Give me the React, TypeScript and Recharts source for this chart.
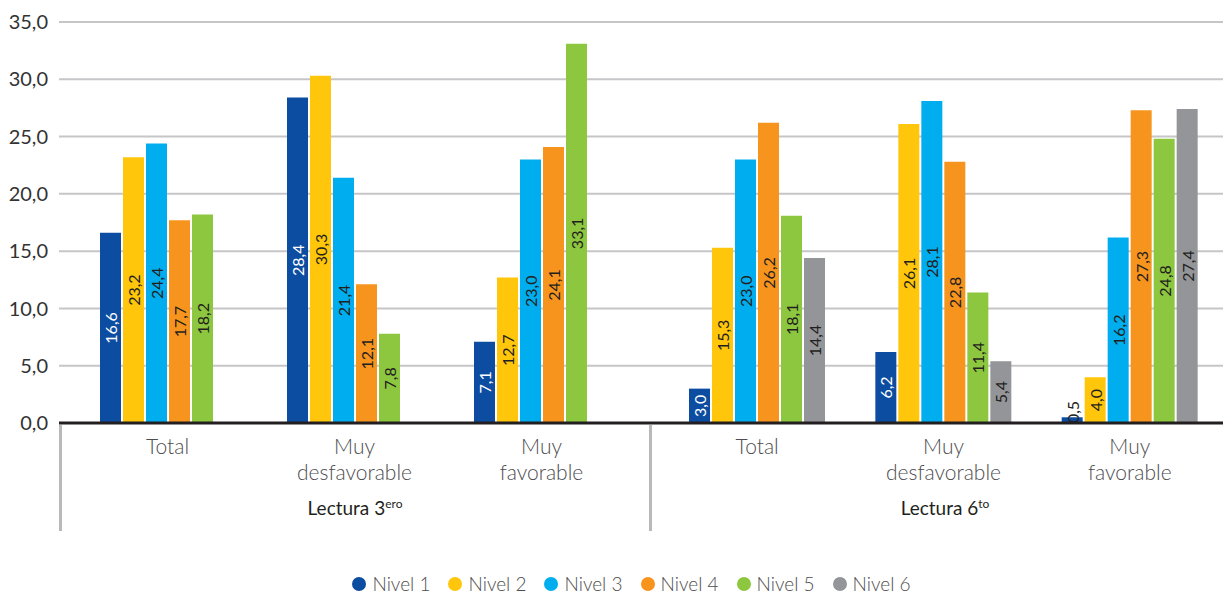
import { BarChart, Bar, XAxis, YAxis, CartesianGrid, LabelList } from 'recharts';

const niveles = ['Nivel 1', 'Nivel 2', 'Nivel 3', 'Nivel 4', 'Nivel 5', 'Nivel 6'];
const colors = ['#0d4da1', '#ffc60b', '#00adee', '#f7941d', '#8dc63f', '#939598'];
const labelColors = ['#ffffff', '#231f20', '#231f20', '#231f20', '#231f20', '#231f20'];

const categories = ['Total', 'Muy desfavorable', 'Muy favorable'];
const yTicks = [0, 5, 10, 15, 20, 25, 30, 35];

// Lectura 3ero (no Nivel 6)
const l3Total = [16.6, 23.2, 24.4, 17.7, 18.2, null];
const l3Desfavorable = [28.4, 30.3, 21.4, 12.1, 7.8, null];
const l3Favorable = [7.1, 12.7, 23.0, 24.1, 33.1, null];

// Lectura 6to
const l6Total = [3.0, 15.3, 23.0, 26.2, 18.1, 14.4];
const l6Desfavorable = [6.2, 26.1, 28.1, 22.8, 11.4, 5.4];
const l6Favorable = [0.5, 4.0, 16.2, 27.3, 24.8, 27.4];

const FONT = 'Lato, "Noto Sans", sans-serif';

function buildRows(rows: (number | null)[][]) {
  return rows.map((vals, i) => {
    const row: any = { name: categories[i] };
    niveles.forEach((n, j) => (row[n] = vals[j]));
    return row;
  });
}

const data3 = buildRows([l3Total, l3Desfavorable, l3Favorable]);
const data6 = buildRows([l6Total, l6Desfavorable, l6Favorable]);

const fmt = (v: number) => v.toFixed(1).replace('.', ',');

function BarLabel(color: string) {
  return (props: any) => {
    const { x, y, width, height, value } = props;
    if (value == null) return null;
    const half = 11;
    const bottom = y + height;
    const cy = Math.min(y + height / 2, bottom - half);
    const cx = x + width / 2;
    // text sticks out of very short bars, so draw it dark there
    const fill = height < 2 * half ? '#231f20' : color;
    return (
      <text
        x={cx}
        y={cy}
        transform={`rotate(-90 ${cx} ${cy})`}
        textAnchor="middle"
        dominantBaseline="central"
        fill={fill}
        fontSize={16}
        fontFamily={FONT}
      >
        {fmt(value)}
      </text>
    );
  };
}

function CategoryTick(props: any) {
  const { x, y, payload } = props;
  const words = String(payload.value).split(' ');
  const lines = words.length > 1 ? [words[0], words.slice(1).join(' ')] : words;
  return (
    <text x={x} y={y} textAnchor="middle" fill="#4d4d4f" fontSize={21} fontFamily={FONT} fontWeight={300}>
      {lines.map((l, i) => (
        <tspan key={i} x={x} dy={i === 0 ? 23 : 26}>
          {l}
        </tspan>
      ))}
    </text>
  );
}

function Series() {
  return niveles.map((n, i) => (
    <Bar key={n} dataKey={n} fill={colors[i]} barSize={21} isAnimationActive={false}>
      <LabelList dataKey={n} content={BarLabel(labelColors[i])} />
    </Bar>
  ));
}

const CHART_H = 540;
const MARGIN = { top: 22, right: 0, left: 0, bottom: 0 };

export default function App() {
  return (
    <div style={{ position: 'absolute', left: 0, top: 0, width: 1223, height: 597, background: '#fff', fontFamily: FONT }}>
      <div style={{ position: 'absolute', left: 0, top: 0 }}>
        <BarChart width={650} height={CHART_H} data={data3} margin={MARGIN} barGap={2} barCategoryGap={25}>
          <CartesianGrid vertical={false} stroke="#c6c6c8" strokeWidth={2} />
          <YAxis
            width={59}
            domain={[0, 35]}
            ticks={yTicks}
            interval={0}
            tickFormatter={fmt}
            axisLine={false}
            tickLine={false}
            tickMargin={5}
            tick={{ fill: '#333', fontSize: 20, fontFamily: FONT }}
          />
          <XAxis
            dataKey="name"
            height={CHART_H - 423}
            padding={{ left: 15, right: 15 }}
            axisLine={{ stroke: '#231f20', strokeWidth: 3 }}
            tickLine={false}
            interval={0}
            tick={<CategoryTick />}
          />
          {Series()}
        </BarChart>
      </div>
      <div style={{ position: 'absolute', left: 650, top: 0 }}>
        <BarChart width={573} height={CHART_H} data={data6} margin={MARGIN} barGap={2} barCategoryGap={25}>
          <CartesianGrid vertical={false} stroke="#c6c6c8" strokeWidth={2} />
          <YAxis hide domain={[0, 35]} ticks={yTicks} />
          <XAxis
            dataKey="name"
            height={CHART_H - 423}
            padding={{ left: 14, right: 0 }}
            axisLine={{ stroke: '#231f20', strokeWidth: 3 }}
            tickLine={false}
            interval={0}
            tick={<CategoryTick />}
          />
          {Series()}
        </BarChart>
      </div>

      {/* group separators */}
      <div style={{ position: 'absolute', left: 59, top: 425, width: 3, height: 106, background: '#b9b9bb' }} />
      <div style={{ position: 'absolute', left: 649, top: 425, width: 3, height: 106, background: '#b9b9bb' }} />

      {/* group labels */}
      <div style={{ position: 'absolute', left: 255, width: 200, top: 496, textAlign: 'center', fontSize: 19, color: '#231f20' }}>
        Lectura 3<sup style={{ fontSize: 12 }}>ero</sup>
      </div>
      <div style={{ position: 'absolute', left: 845, width: 200, top: 496, textAlign: 'center', fontSize: 19, color: '#231f20' }}>
        Lectura 6<sup style={{ fontSize: 12 }}>to</sup>
      </div>

      {/* legend */}
      <div style={{ position: 'absolute', left: 0, width: 1223, top: 572, display: 'flex', justifyContent: 'center', paddingLeft: 58, boxSizing: 'border-box' }}>
        {niveles.map((n, i) => (
          <div key={n} style={{ display: 'flex', alignItems: 'center', marginRight: 18 }}>
            <span style={{ width: 14, height: 14, borderRadius: 7, background: colors[i], marginRight: 6 }} />
            <span style={{ fontSize: 19, color: '#4d4d4f', fontWeight: 300 }}>{n}</span>
          </div>
        ))}
      </div>
    </div>
  );
}
